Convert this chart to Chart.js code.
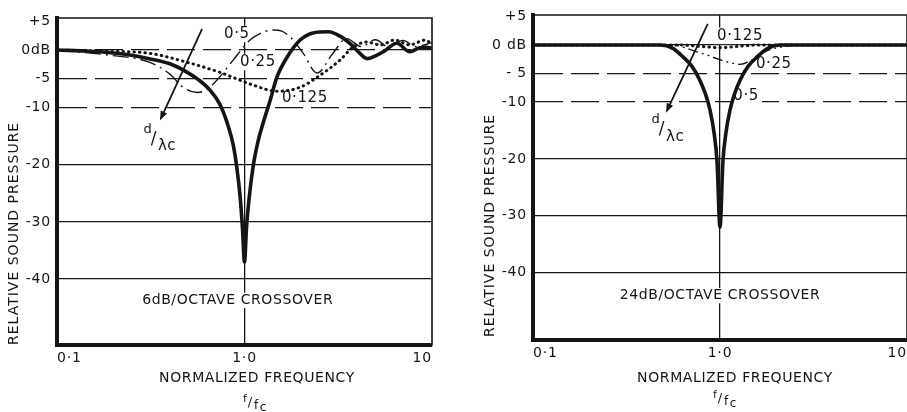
<!DOCTYPE html>
<html>
<head>
<meta charset="utf-8">
<script src="https://cdn.jsdelivr.net/npm/chart.js@4.4.1/dist/chart.umd.min.js"></script>
<style>
  html, body { margin: 0; padding: 0; background: #fff; overflow: hidden; }
  #wrap { position: relative; width: 907px; height: 412px; overflow: hidden; }
  #left { position: absolute; left: 0; top: 0; }
  #right { position: absolute; left: 460px; top: 0; }
</style>
</head>
<body>
<div id="wrap">
  <canvas id="left" width="450" height="412"></canvas>
  <canvas id="right" width="465" height="412"></canvas>
</div>
<script>
// axis ticks
const freqTicks = [0.1, 1, 10];
const freqTickLabels = ['0·1', '1·0', '10'];
const dbTicks = [5, 0, -5, -10, -20, -30, -40];
const dbTickLabelsSix = ['+5', '0dB', '-5', '-10', '-20', '-30', '-40'];
const dbTickLabelsTf = ['+5', '0 dB', '- 5', '-10', '-20', '-30', '-40'];

// 6dB/octave crossover, one series per d/λc
const sixFreq025 = [0.1, 0.15, 0.2, 0.25, 0.31, 0.4, 0.49, 0.57, 0.655, 0.74, 0.81, 0.87, 0.91, 0.95, 0.975, 1.0, 1.025, 1.05, 1.11, 1.18, 1.255, 1.37, 1.49, 1.69, 1.98, 2.32, 2.8, 3.25, 3.7, 4.1, 4.5, 5.0, 5.5, 6.5, 7.6, 8.6, 9.4, 10];
const sixDb025 = [0, -0.2, -0.5, -0.9, -1.5, -2.4, -3.8, -5.2, -7, -9.5, -12.8, -16.5, -20.5, -26, -31, -37, -31, -27, -20.5, -16, -12.8, -8.8, -4.7, -1.2, 1.75, 3, 3.2, 2.4, 1.0, -0.5, -1.5, -1.0, -0.3, 1.2, -0.3, 0.4, 0.5, 0.3];
const sixFreq05 = [0.1, 0.19, 0.31, 0.4, 0.47, 0.56, 0.63, 0.71, 0.87, 1.07, 1.25, 1.42, 1.58, 1.75, 2.05, 2.44, 2.97, 3.5, 4.2, 5.0, 5.9, 7.0, 8.2, 10];
const sixDb05 = [0, -0.9, -2.1, -4.2, -6.5, -7.4, -6.9, -5.3, -1.75, 1.75, 3.1, 3.5, 3.3, 2.3, -0.5, -4, -0.5, 2.0, 0.6, 1.8, 0.5, 1.7, 0.6, 1.3];
const sixFreq0125 = [0.1, 0.17, 0.3, 0.49, 0.74, 1.11, 1.49, 1.98, 2.53, 3.23, 3.79, 4.5, 5.3, 6.35, 7.6, 9.2, 10];
const sixDb0125 = [0, -0.2, -0.5, -2.1, -3.9, -6.1, -7.2, -6.5, -4.4, -1.75, 0.5, 1.4, 0.9, 1.75, 0.9, 1.75, 1];

// 24dB/octave crossover
const tfFreq05 = [0.1, 0.3, 0.48, 0.56, 0.634, 0.71, 0.78, 0.84, 0.885, 0.93, 0.964, 1.0, 1.037, 1.075, 1.13, 1.19, 1.28, 1.41, 1.58, 1.8, 2.09, 3, 10];
const tfDb05 = [0, 0, 0, -0.6, -2.1, -3.8, -6.2, -8.8, -11.5, -15.5, -20.4, -32, -20.4, -15.5, -11.5, -8.8, -6.2, -3.8, -2.1, -0.6, 0, 0, 0];
const tfFreq025 = [0.1, 0.56, 0.65, 0.75, 0.86, 0.96, 1.1, 1.28, 1.45, 1.64, 1.85, 2.09, 2.7, 10];
const tfDb025 = [0, 0, -0.5, -1.2, -1.8, -2.4, -3.0, -3.4, -2.8, -1.6, -0.8, -0.4, 0, 0];
const tfFreq0125 = [0.1, 0.6, 0.75, 0.9, 1.0, 1.1, 1.3, 1.6, 10];
const tfDb0125 = [0, 0, -0.2, -0.4, -0.5, -0.4, -0.2, 0, 0];

const ink = '#151515';
const family = '"DejaVu Sans", sans-serif';
Chart.defaults.font.family = family;
Chart.defaults.color = ink;

const pts = (fs, ds) => fs.map((f, i) => ({ x: f, y: ds[i] }));

const styles = {
  thick: { borderWidth: 3.6, borderDash: [] },
  dashDot: { borderWidth: 1.4, borderDash: [16, 5, 2, 5] },
  dashDotDot: { borderWidth: 1.4, borderDash: [10, 4, 2, 4, 2, 4] },
  dotted: { borderWidth: 3, borderDash: [0.5, 5] }
};

const paper = {
  id: 'paper',
  beforeDraw(chart) {
    chart.ctx.letterSpacing = '0.8px';
  },
  beforeDatasetsDraw(chart, args, o) {
    const { ctx, scales: { x, y } } = chart;
    ctx.save();
    ctx.fillStyle = '#fff';
    for (const n of o.notes) {
      ctx.font = n.size + 'px ' + family;
      ctx.letterSpacing = '0.6px';
      const w = ctx.measureText(n.text).width;
      const px = x.getPixelForValue(n.x), py = y.getPixelForValue(n.y);
      ctx.fillRect(px - w / 2 - 3, py - n.size * 0.55, w + 6, n.size * 1.1);
    }
    ctx.restore();
  },
  afterDatasetsDraw(chart, args, o) {
    const { ctx, scales: { x, y } } = chart;
    ctx.save();
    ctx.fillStyle = ink;
    ctx.strokeStyle = ink;
    ctx.textAlign = 'center';
    ctx.textBaseline = 'middle';
    ctx.letterSpacing = '0.6px';
    for (const n of o.notes) {
      ctx.font = n.size + 'px ' + family;
      ctx.fillText(n.text, x.getPixelForValue(n.x), y.getPixelForValue(n.y));
    }
    // arrow
    const a = o.arrow;
    const x0 = x.getPixelForValue(a.x0), y0 = y.getPixelForValue(a.y0);
    const x1 = x.getPixelForValue(a.x1), y1 = y.getPixelForValue(a.y1);
    const ang = Math.atan2(y1 - y0, x1 - x0);
    ctx.lineWidth = 1.8;
    ctx.beginPath();
    ctx.moveTo(x0, y0);
    ctx.lineTo(x1 - 6 * Math.cos(ang), y1 - 6 * Math.sin(ang));
    ctx.stroke();
    ctx.beginPath();
    ctx.moveTo(x1, y1);
    ctx.lineTo(x1 - 10 * Math.cos(ang - 0.35), y1 - 10 * Math.sin(ang - 0.35));
    ctx.lineTo(x1 - 10 * Math.cos(ang + 0.35), y1 - 10 * Math.sin(ang + 0.35));
    ctx.closePath();
    ctx.fill();
    // d / λc
    const ax = x.getPixelForValue(o.ratio.x), ay = y.getPixelForValue(o.ratio.y);
    ctx.font = '13px ' + family;
    ctx.fillText('d', ax - 9, ay - 9);
    ctx.font = '17px ' + family;
    ctx.fillText('/', ax - 3, ay + 1);
    ctx.font = '15px ' + family;
    ctx.textAlign = 'left';
    ctx.fillText('λc', ax + 1, ay + 8);
    ctx.restore();
  },
  afterDraw(chart, args, o) {
    const { ctx, chartArea: c } = chart;
    ctx.save();
    ctx.strokeStyle = ink;
    ctx.fillStyle = ink;
    ctx.lineWidth = 1.6;
    ctx.beginPath();
    ctx.moveTo(c.left, c.top);
    ctx.lineTo(c.right, c.top);
    ctx.lineTo(c.right, c.bottom);
    ctx.stroke();
    ctx.letterSpacing = '1px';
    ctx.font = '14px ' + family;
    // y title, starting at the bottom of the plot
    ctx.save();
    ctx.translate(o.yTitleX, c.bottom - o.yTitleInset);
    ctx.rotate(-Math.PI / 2);
    ctx.textAlign = 'left';
    ctx.textBaseline = 'middle';
    ctx.fillText('RELATIVE SOUND PRESSURE', 0, 0);
    ctx.restore();
    ctx.textAlign = 'center';
    ctx.textBaseline = 'middle';
    ctx.letterSpacing = '0.6px';
    ctx.fillText('NORMALIZED FREQUENCY', o.xTitleX, o.xTitleY);
    // f / fc
    const fx = o.fX, fy = o.fY;
    ctx.letterSpacing = '0px';
    ctx.font = '11px ' + family;
    ctx.fillText('f', fx - 8, fy - 4);
    ctx.font = '13px ' + family;
    ctx.fillText('/', fx - 3, fy);
    ctx.font = '12px ' + family;
    ctx.fillText('f', fx + 3, fy + 3);
    ctx.fillText('c', fx + 10, fy + 5);
    ctx.restore();
  }
};

function makeChart(id, cfg) {
  const datasets = cfg.series.map(s => ({
    data: pts(s.freq, s.db),
    borderColor: ink,
    borderWidth: styles[s.style].borderWidth,
    borderDash: styles[s.style].borderDash,
    borderCapStyle: s.style === 'dotted' ? 'round' : 'butt',
    pointRadius: 0,
    cubicInterpolationMode: 'monotone',
    fill: false
  }));

  return new Chart(document.getElementById(id), {
    type: 'line',
    data: { datasets },
    plugins: [paper],
    options: {
      responsive: false,
      animation: false,
      events: [],
      layout: { padding: { top: cfg.padTop, right: cfg.padRight, left: 0, bottom: 0 } },
      plugins: {
        legend: { display: false },
        title: { display: false },
        tooltip: { enabled: false },
        paper: cfg.paper
      },
      scales: {
        x: {
          type: 'logarithmic',
          min: 0.1,
          max: 10,
          afterBuildTicks: s => { s.ticks = freqTicks.map(v => ({ value: v, major: true })); },
          afterFit: s => { s.height = cfg.bottomH; },
          ticks: {
            autoSkip: false,
            maxRotation: 0,
            align: 'inner',
            padding: 5,
            font: { size: 14 },
            color: ink,
            callback: (v, i) => freqTickLabels[i]
          },
          grid: {
            drawTicks: false,
            lineWidth: 1.3,
            color: c => (c.tick && c.tick.value === 1) ? ink : 'rgba(0,0,0,0)'
          },
          border: { color: ink, width: 4 }
        },
        y: {
          type: 'linear',
          min: cfg.yMin,
          max: cfg.yMax,
          afterBuildTicks: s => { s.ticks = dbTicks.map(v => ({ value: v })); },
          afterFit: s => { s.width = cfg.leftW; },
          ticks: {
            autoSkip: false,
            padding: 6,
            font: { size: 14 },
            color: ink,
            callback: (v, i) => cfg.tickLabels[i]
          },
          grid: {
            drawTicks: false,
            lineWidth: 1.3,
            color: c => (c.tick && c.tick.value === 5) ? 'rgba(0,0,0,0)' : ink
          },
          border: {
            color: ink,
            width: 4,
            dash: c => (c.tick && cfg.dashed.includes(c.tick.value)) ? [28, 8] : []
          }
        }
      }
    }
  });
}

makeChart('left', {
  series: [
    { freq: sixFreq0125, db: sixDb0125, style: 'dotted' },
    { freq: sixFreq05, db: sixDb05, style: 'dashDot' },
    { freq: sixFreq025, db: sixDb025, style: 'thick' }
  ],
  tickLabels: dbTickLabelsSix,
  yMin: -51.5, yMax: 5.6,
  leftW: 57, padTop: 18, padRight: 18, bottomH: 67,
  dashed: [0, -5, -10],
  paper: {
    notes: [
      { text: '0·5', x: 0.91, y: 2.8, size: 15 },
      { text: '0·25', x: 1.18, y: -2.1, size: 15 },
      { text: '0·125', x: 2.1, y: -8.4, size: 15 },
      { text: '6dB/OCTAVE CROSSOVER', x: 0.92, y: -43.7, size: 14 }
    ],
    arrow: { x0: 0.594, y0: 3.7, x1: 0.354, y1: -12.3 },
    ratio: { x: 0.341, y: -15.4 },
    yTitleX: 14, yTitleInset: 0,
    xTitleX: 257, xTitleY: 378,
    fX: 253, fY: 403
  }
});

makeChart('right', {
  series: [
    { freq: tfFreq0125, db: tfDb0125, style: 'dotted' },
    { freq: tfFreq025, db: tfDb025, style: 'dashDotDot' },
    { freq: tfFreq05, db: tfDb05, style: 'thick' }
  ],
  tickLabels: dbTickLabelsTf,
  yMin: -51.8, yMax: 5.26,
  leftW: 73, padTop: 15, padRight: 18, bottomH: 72,
  dashed: [-5, -10],
  paper: {
    notes: [
      { text: '0·125', x: 1.28, y: 1.6, size: 15 },
      { text: '0·25', x: 1.94, y: -3.4, size: 15 },
      { text: '0·5', x: 1.38, y: -9.0, size: 15 },
      { text: '24dB/OCTAVE CROSSOVER', x: 1.0, y: -44, size: 14 }
    ],
    arrow: { x0: 0.86, y0: 3.7, x1: 0.514, y1: -11.9 },
    ratio: { x: 0.508, y: -14.7 },
    yTitleX: 30, yTitleInset: 3,
    xTitleX: 275, xTitleY: 378,
    fX: 263, fY: 399
  }
});
</script>
</body>
</html>
